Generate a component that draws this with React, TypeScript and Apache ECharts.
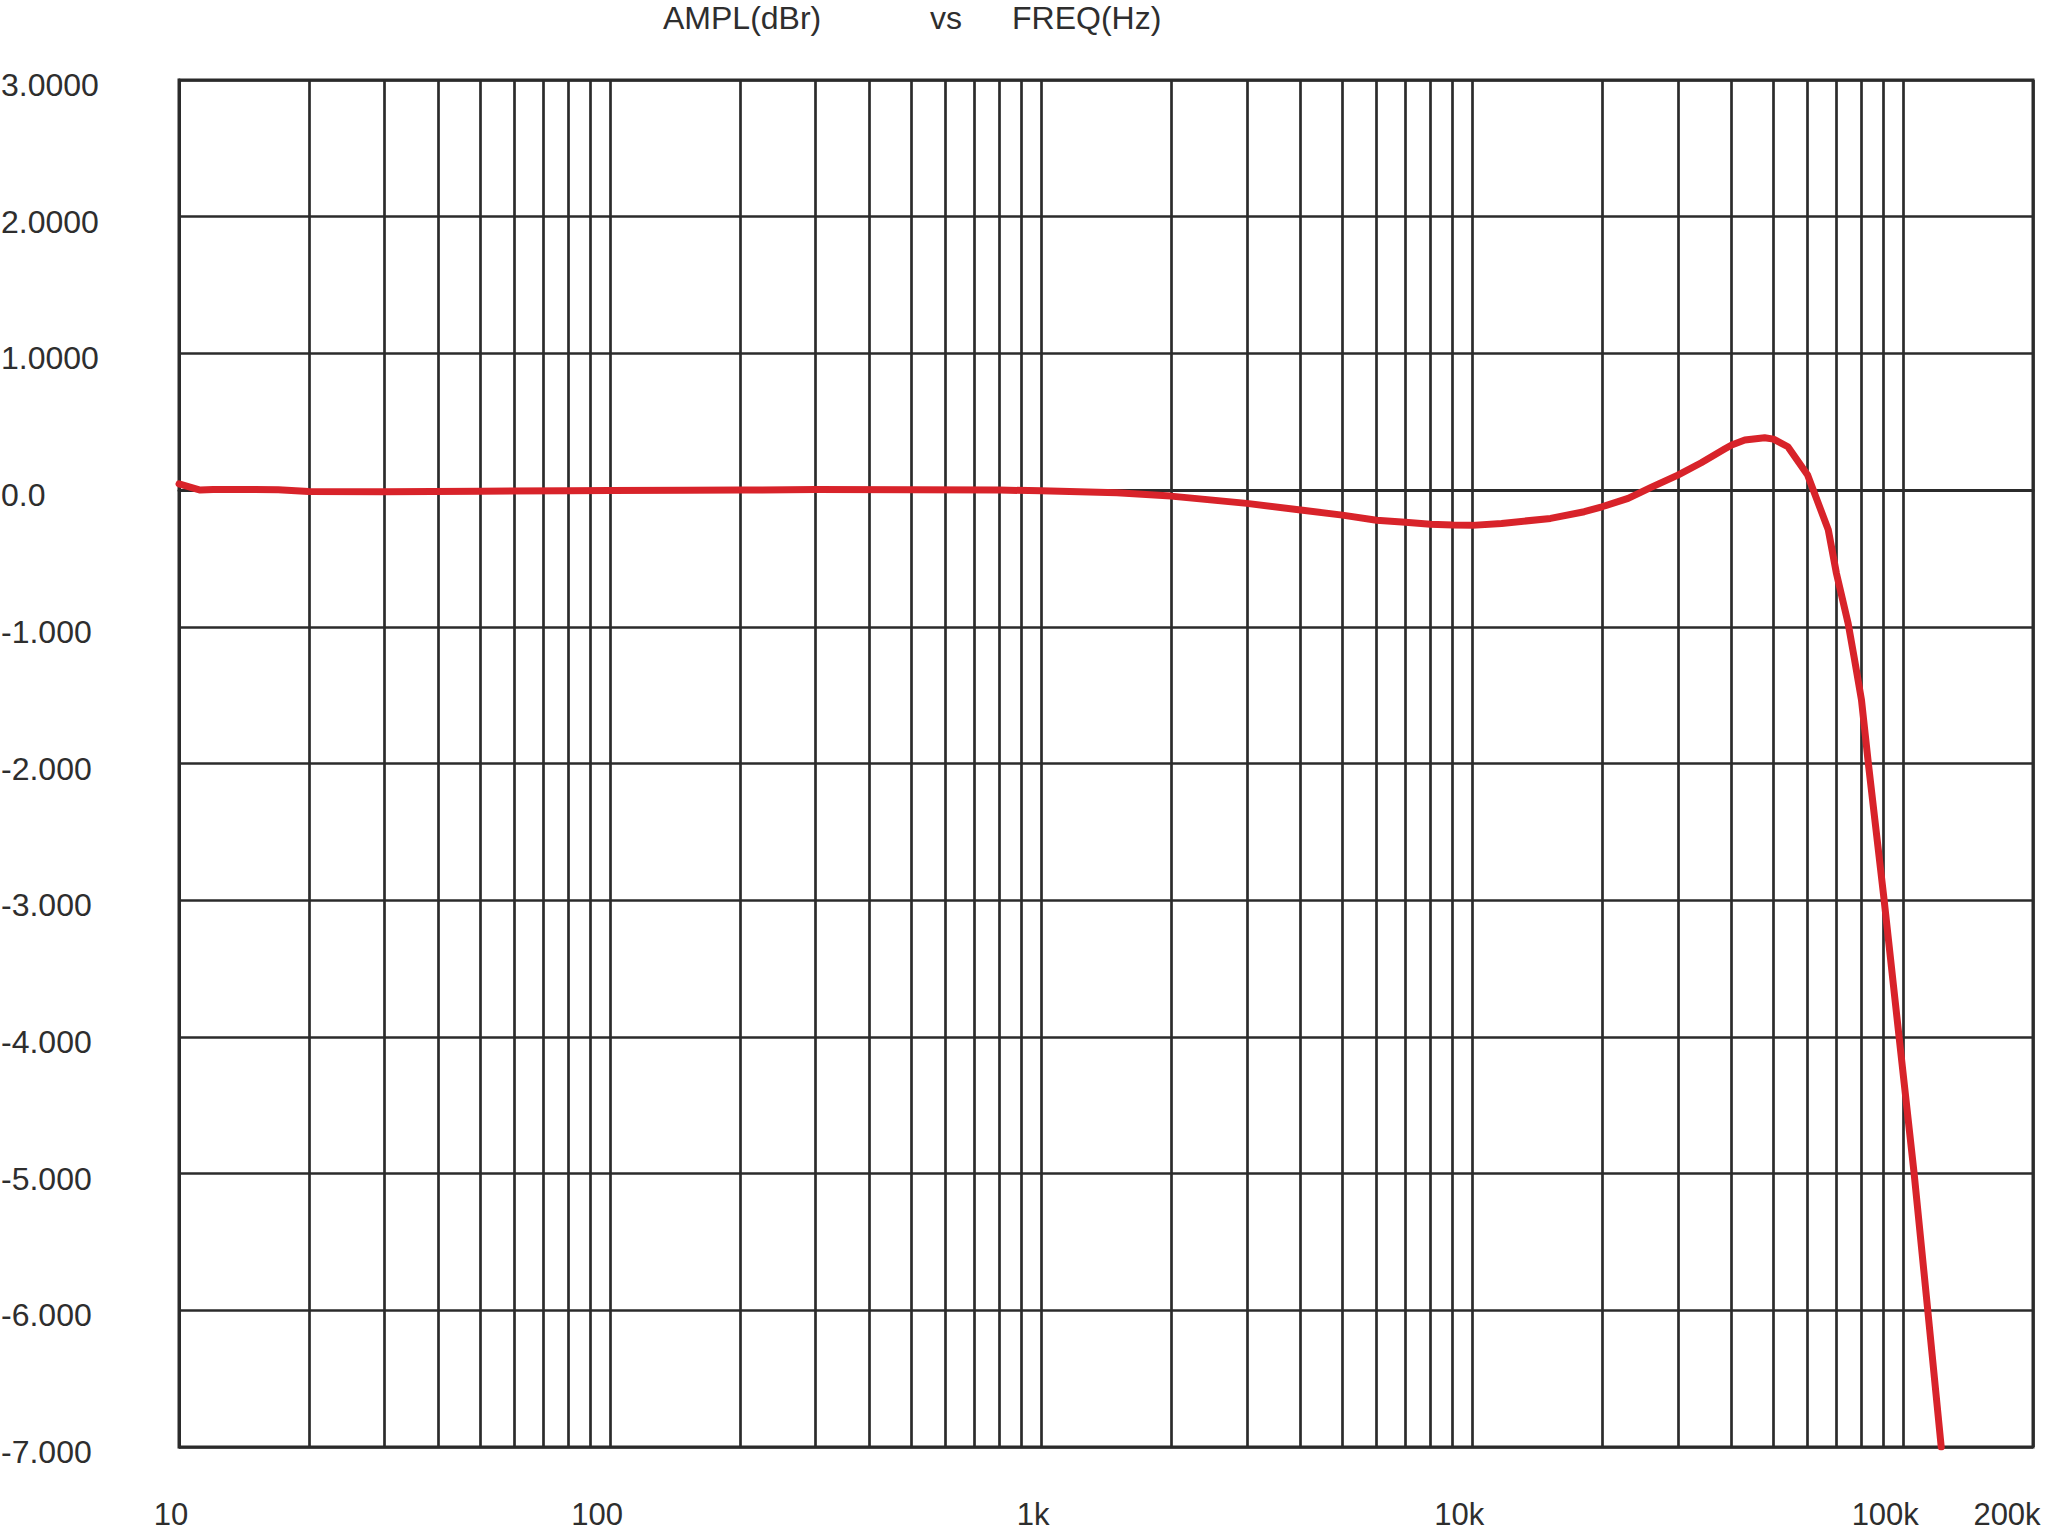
import React, { useEffect, useRef } from "react";
import * as echarts from "echarts";

// Frequency response: amplitude (dBr) vs frequency (Hz)
const FREQ_HZ = [
  10, 11.2, 12, 15, 17, 20, 30, 50, 80, 100, 150, 200, 300, 500, 800, 1000,
  1500, 2000, 3000, 4000, 5000, 6000, 7000, 8000, 9000, 10000, 11700, 15200,
  18200, 20000, 23000, 26000, 30000, 34000, 38500, 40000, 42900, 47700, 50000,
  54000, 60000, 67000, 70000, 74500, 77100, 80000, 83000, 90300, 97800, 106000,
  114000, 122500,
];
const AMPL_DBR = [
  0.045, 0.0, 0.005, 0.005, 0.003, -0.01, -0.012, -0.008, -0.004, -0.003,
  -0.002, 0.0, 0.005, 0.003, 0.0, -0.005, -0.02, -0.044, -0.097, -0.146,
  -0.183, -0.22, -0.236, -0.249, -0.256, -0.258, -0.244, -0.207, -0.158,
  -0.122, -0.061, 0.02, 0.11, 0.2, 0.3, 0.33, 0.366, 0.383, 0.373, 0.317,
  0.11, -0.29, -0.61, -0.975, -1.24, -1.535, -2.0, -3.0, -4.0, -5.0, -6.0,
  -7.0,
];

const X_LABEL_VALUES = [10, 100, 1000, 10000, 100000, 200000];
const X_LABEL_TEXTS = ["10", "100", "1k", "10k", "100k", "200k"];
const X_GRID_VALUES = [
  10, 20, 30, 40, 50, 60, 70, 80, 90,
  100, 200, 300, 400, 500, 600, 700, 800, 900,
  1000, 2000, 3000, 4000, 5000, 6000, 7000, 8000, 9000,
  10000, 20000, 30000, 40000, 50000, 60000, 70000, 80000, 90000,
  100000, 200000,
];
const Y_TICK_VALUES = [-7, -6, -5, -4, -3, -2, -1, 0, 1, 2, 3];
const Y_TICK_LABELS = [
  "-7.000", "-6.000", "-5.000", "-4.000", "-3.000", "-2.000", "-1.000",
  "0.0", "1.0000", "2.0000", "3.0000",
];
const TITLE_PARTS = ["AMPL(dBr)", "vs", "FREQ(Hz)"];

// styling
const X_LABEL_PAD = [16, 26, 16, 26, 36, 52];
const TITLE_X = [663, 930, 1012];
const GRID_COLOR = "#2b2b2b";
const TEXT_COLOR = "#2e2e2e";
const LINE_COLOR = "#d8232a";
const FONT = "'Liberation Sans', Arial, Helvetica, sans-serif";

export default function App() {
  const ref = useRef<HTMLDivElement>(null);

  useEffect(() => {
    if (!ref.current) return;
    const chart = echarts.init(ref.current, null, { renderer: "svg" });

    const xRich: Record<string, any> = {};
    X_LABEL_PAD.forEach((p, i) => {
      xRich["s" + i] = {
        fontSize: 31,
        fontFamily: FONT,
        color: TEXT_COLOR,
        padding: [0, p, 0, 0],
      };
    });

    const data = FREQ_HZ.map((f, i) => [f, AMPL_DBR[i]]);

    chart.setOption({
      animation: false,
      backgroundColor: "#ffffff",
      textStyle: { fontFamily: FONT },
      grid: {
        left: 179,
        right: 15,
        top: 80,
        bottom: 85,
        containLabel: false,
        outerBoundsMode: "none",
        show: true,
        borderColor: GRID_COLOR,
        borderWidth: 3,
        backgroundColor: "transparent",
      },
      graphic: TITLE_PARTS.map((t, i) => ({
        type: "text",
        left: TITLE_X[i],
        top: 1,
        style: {
          text: t,
          fontSize: 32,
          fontFamily: FONT,
          fill: TEXT_COLOR,
          lineHeight: 34,
        },
      })),
      xAxis: {
        type: "log",
        logBase: 10,
        min: 10,
        max: 200000,
        axisLine: { show: true, lineStyle: { color: GRID_COLOR, width: 3 } },
        axisTick: { show: false, customValues: X_GRID_VALUES },
        minorTick: { show: false },
        minorSplitLine: { show: false },
        splitLine: {
          show: true,
          lineStyle: { color: GRID_COLOR, width: 2.7, type: "solid" },
        },
        axisLabel: {
          customValues: X_LABEL_VALUES,
          margin: 67,
          fontSize: 31,
          color: TEXT_COLOR,
          fontFamily: FONT,
          align: "center",
          verticalAlign: "middle",
          formatter: (v: number) => {
            let best = 0;
            let bestD = Infinity;
            X_LABEL_VALUES.forEach((x, i) => {
              const d = Math.abs(Math.log10(x) - Math.log10(v));
              if (d < bestD) {
                bestD = d;
                best = i;
              }
            });
            return "{s" + best + "|" + X_LABEL_TEXTS[best] + "}";
          },
          rich: xRich,
        },
      },
      yAxis: {
        type: "value",
        min: -7,
        max: 3,
        interval: 1,
        axisLine: { show: true, lineStyle: { color: GRID_COLOR, width: 3 } },
        axisTick: { show: false },
        splitLine: {
          show: true,
          lineStyle: { color: GRID_COLOR, width: 2.7, type: "solid" },
        },
        axisLabel: {
          align: "left",
          verticalAlign: "middle",
          margin: 178,
          fontSize: 32,
          color: TEXT_COLOR,
          fontFamily: FONT,
          formatter: (v: number) => {
            const i = Y_TICK_VALUES.findIndex((t) => Math.abs(t - v) < 1e-6);
            return i >= 0 ? "{y|" + Y_TICK_LABELS[i] + "}" : "";
          },
          rich: {
            y: {
              fontSize: 32,
              fontFamily: FONT,
              color: TEXT_COLOR,
              padding: [10, 0, 0, 0],
            },
          },
        },
      },
      series: [
        {
          type: "line",
          data,
          showSymbol: false,
          symbol: "none",
          smooth: false,
          z: 10,
          lineStyle: { color: LINE_COLOR, width: 7, cap: "round", join: "round" },
        },
      ],
    });

    return () => chart.dispose();
  }, []);

  return (
    <div
      ref={ref}
      style={{
        position: "absolute",
        left: 0,
        top: 0,
        width: 2048,
        height: 1532,
        background: "#ffffff",
      }}
    />
  );
}
